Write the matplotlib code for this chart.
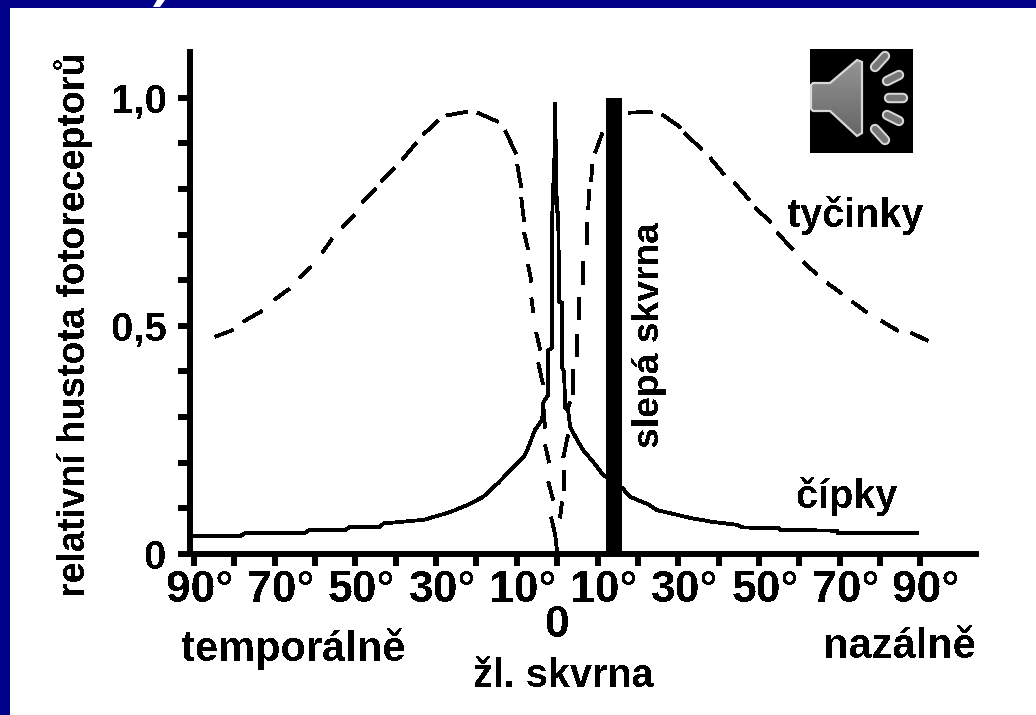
import matplotlib
matplotlib.use("Agg")
import matplotlib.pyplot as plt
import matplotlib.patches as patches
import matplotlib.transforms as mtransforms
import numpy as np

nan = np.nan

# rods (nan = gap in the dashed line)
rod_x = [-84.8, -80.3, nan, -77.8, -73.1, nan, -70.1, -66.4, nan, -63.9, -61.0, nan,
         -58.2, -55.8, nan, -53.3, -50.3, nan, -48.3, -44.9, nan, -43.6, -40.4, nan,
         -38.4, -34.9, nan, -33.2, -29.5, nan, -27.5, -22.3, nan, -19.8, -14.6, nan,
         -12.9, -10.2, nan, -9.9, -8.9, nan, -8.9, -8.2, nan, -8.2, -7.2, nan,
         -7.2, -6.4, nan, -6.4, -5.9, nan, -5.2, -4.2, nan, -4.7, -3.5, nan,
         -3.5, -3.0, nan, -3.0, -2.0, nan, -2.2, -1.0, nan, -1.5, -0.5, 0.0, nan,
         0.7, 1.2, nan, 1.7, 1.7, nan, 1.5, 2.7, nan, 2.5, 3.2, nan, 4.0, 4.0, nan,
         5.0, 5.0, nan, 5.5, 5.5, nan, 6.4, 6.4, nan, 7.4, 7.4, nan, 7.7, 7.9, nan,
         8.4, 8.7, nan, 9.4, 11.2, nan, 17.6, 23.5, nan, 26.0, 30.7, nan, 31.5, 35.9, nan,
         37.9, 41.4, nan, 43.9, 47.6, nan, 49.1, 53.0, nan, 54.5, 58.5, nan, 61.0, 64.4, nan,
         66.9, 70.6, nan, 73.1, 76.8, nan, 80.3, 84.5, nan, 87.7, 91.9]
rod_y = [0.476, 0.491, nan, 0.509, 0.533, nan, 0.557, 0.581, nan, 0.605, 0.629, nan,
         0.660, 0.691, nan, 0.715, 0.743, nan, 0.770, 0.800, nan, 0.816, 0.846, nan,
         0.864, 0.901, nan, 0.919, 0.950, nan, 0.961, 0.969, nan, 0.967, 0.947, nan,
         0.928, 0.877, nan, 0.853, 0.803, nan, 0.781, 0.728, nan, 0.704, 0.667, nan,
         0.634, 0.596, nan, 0.561, 0.529, nan, 0.485, 0.447, nan, 0.419, 0.371, nan,
         0.331, 0.276, nan, 0.239, 0.200, nan, 0.158, 0.118, nan, 0.081, 0.042, 0.004, nan,
         0.079, 0.114, nan, 0.140, 0.184, nan, 0.211, 0.261, nan, 0.316, 0.333, nan, 0.349, 0.404, nan,
         0.432, 0.480, nan, 0.513, 0.561, nan, 0.590, 0.640, nan, 0.678, 0.726, nan, 0.754, 0.798, nan,
         0.816, 0.853, nan, 0.879, 0.923, nan, 0.967, 0.969, nan, 0.963, 0.934, nan, 0.923, 0.886, nan,
         0.868, 0.831, nan, 0.814, 0.776, nan, 0.759, 0.726, nan, 0.704, 0.667, nan, 0.640, 0.612, nan,
         0.594, 0.570, nan, 0.553, 0.529, nan, 0.511, 0.489, nan, 0.485, 0.467]

# cones
cone_x = [-90.2, -78.6, -77.3, -62.5, -61.5, -52.5, -51.5, -44.0, -43.0, -33.0, -26.5, -22.3,
          -18.4, -14.6, -11.5, -8.3, -7.4, -5.5, -3.7, -3.5, -2.2, -2.2, -1.2, -1.2, -1.0,
          -0.5, -0.5, -0.25, 0.0, 0.25, 0.5, 1.2, 1.2, 1.7, 2.0, 2.7, 3.2, 4.5, 6.4, 8.9,
          11.4, 12.4, 16.1, 18.1, 22.3, 24.8, 29.7, 33.0, 38.7, 44.6, 46.1, 54.8, 55.3,
          69.4, 69.6, 89.2]
cone_y = [0.039, 0.039, 0.046, 0.046, 0.052, 0.052, 0.059, 0.059, 0.067, 0.075, 0.092, 0.107,
          0.125, 0.156, 0.184, 0.213, 0.228, 0.272, 0.294, 0.331, 0.349, 0.447, 0.452, 0.748, 0.798,
          0.908, 0.989, 0.809, 0.750, 0.748, 0.553, 0.550, 0.410, 0.399, 0.320, 0.316, 0.279, 0.257,
          0.228, 0.202, 0.173, 0.167, 0.145, 0.125, 0.110, 0.096, 0.086, 0.079, 0.070, 0.064, 0.058,
          0.057, 0.053, 0.051, 0.046, 0.046]

# blind spot
blind_x = 14.1
blind_width = 4.0
blind_top = 1.0

xtick_pos = list(range(-90, 100, 10))
xtick_labels = {-90: "90°", -70: "70°", -50: "50°", -30: "30°", -10: "10°", 0: "0",
                10: "10°", 30: "30°", 50: "50°", 70: "70°", 90: "90°"}
ytick_pos = [0, 0.1, 0.2, 0.3, 0.4, 0.5, 0.6, 0.7, 0.8, 0.9, 1.0]
ytick_labels = {0: "0", 0.5: "0,5", 1.0: "1,0"}

W, H = 1036, 715
BLUE = "#000088"
FONT = ["Liberation Sans", "DejaVu Sans"]

plt.rcParams["text.antialiased"] = False

fig = plt.figure(figsize=(W / 100, H / 100), dpi=100, facecolor=BLUE)

# pixel-coordinate layer for the slide background and the speaker icon
bg = fig.add_axes([0, 0, 1, 1], zorder=0)
bg.axis("off")
bg.add_patch(patches.Rectangle((10, 8), W - 10, H - 8, color="white", lw=0))
bg.add_patch(patches.Polygon([(153, 7), (160, 7), (165, 0), (157, 0)], color="white", lw=0))

# chart
ax = fig.add_axes([190 / W, 1 - 554 / H, (976 - 190) / W, (554 - 52) / H], zorder=1)
ax.patch.set_alpha(0)
ax.set_xlim(-91, 103.8)
ax.set_ylim(0, 1.10)

ax.plot(rod_x, rod_y, color="black", lw=2.0, solid_capstyle="butt", antialiased=False)
ax.plot(cone_x, cone_y, color="black", lw=2.0, solid_joinstyle="miter", antialiased=False)
ax.bar([blind_x], [blind_top], width=blind_width, color="black", lw=0)

for side in ["top", "right"]:
    ax.spines[side].set_visible(False)
for side in ["left", "bottom"]:
    ax.spines[side].set_linewidth(4.3)

ax.set_xticks(xtick_pos)
ax.set_xticklabels([xtick_labels.get(p, "") for p in xtick_pos],
                   fontsize=32, fontweight="bold", family=FONT)
ax.set_yticks(ytick_pos)
ax.set_yticklabels([ytick_labels.get(p, "") for p in ytick_pos],
                   fontsize=29, fontweight="bold", family=FONT)
ax.tick_params(axis="both", length=8.6, width=4.3, color="black")
ax.tick_params(axis="x", pad=3)
ax.tick_params(axis="y", pad=8)

# the degree sign pushes the labels to the right of their ticks
shift = mtransforms.ScaledTranslation(6 / 100, 0, fig.dpi_scale_trans)
for p, tick in zip(xtick_pos, ax.xaxis.get_major_ticks()):
    if p == 0:
        tick.set_pad(28)
    else:
        tick.label1.set_transform(tick.label1.get_transform() + shift)

# texts placed in the same pixel layer as the slide
bg_text = dict(color="black", fontweight="bold", zorder=5, family=FONT)
vert = dict(rotation=90, rotation_mode="anchor", ha="left", va="baseline")
bg.text(85, 597, "relativní hustota fotoreceptorů", fontsize=27, **vert, **bg_text)
bg.text(659, 448, "slepá skvrna", fontsize=26.8, **vert, **bg_text)
bg.text(787, 227, "tyčinky", ha="left", va="baseline", fontsize=28.5, **bg_text)
bg.text(796, 508, "čípky", ha="left", va="baseline", fontsize=28.5, **bg_text)
bg.text(181, 661, "temporálně", ha="left", va="baseline", fontsize=30, **bg_text)
bg.text(976, 658, "nazálně", ha="right", va="baseline", fontsize=30, **bg_text)
bg.text(473, 687, "žl. skvrna", ha="left", va="baseline", fontsize=28.5, **bg_text)

# speaker icon
bg.add_patch(patches.Rectangle((810, 49), 103, 104, color="black", lw=0))
body = patches.Polygon([(811, 85), (813, 83), (830, 83), (857, 60), (862, 62), (862, 133),
                        (857, 136), (830, 111), (813, 111), (811, 109)],
                       closed=True, facecolor="none", edgecolor="#d8d8d8", lw=1.6, zorder=3)
bg.add_patch(body)
shade = bg.imshow(np.linspace(0.58, 0.4, 64).reshape(-1, 1), extent=(811, 862, 136, 60), cmap="gray",
                  vmin=0, vmax=1, aspect="auto", zorder=2)
shade.set_clip_path(body)
pills = [((875, 67), (885, 56)), ((887, 81), (899, 75)), ((889, 98), (903, 98)),
         ((887, 115), (899, 121)), ((875, 129), (885, 140))]
for a, b in pills:
    bg.plot([a[0], b[0]], [a[1], b[1]], color="#d8d8d8", lw=7.5, solid_capstyle="round", zorder=3)
    bg.plot([a[0], b[0]], [a[1], b[1]], color="#777777", lw=4.6, solid_capstyle="round", zorder=4)
bg.set_xlim(0, W)
bg.set_ylim(H, 0)

fig.savefig("out.png", dpi=100, facecolor=BLUE)
